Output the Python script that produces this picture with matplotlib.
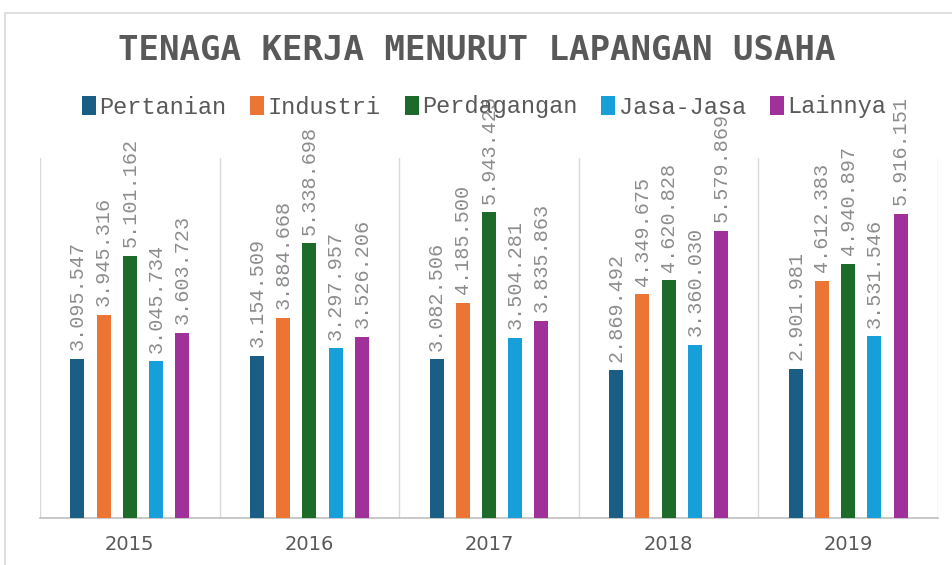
import numpy as np
import matplotlib.pyplot as plt
from matplotlib.patches import Rectangle

# data
years = ["2015", "2016", "2017", "2018", "2019"]
sectors = ["Pertanian", "Industri", "Perdagangan", "Jasa-Jasa", "Lainnya"]
pertanian = [3095547, 3154509, 3082506, 2869492, 2901981]
industri = [3945316, 3884668, 4185500, 4349675, 4612383]
perdagangan = [5101162, 5338698, 5943425, 4620828, 4940897]
jasa = [3045734, 3297957, 3504281, 3360030, 3531546]
lainnya = [3603723, 3526206, 3835863, 5579869, 5916151]

colors = ["#1b5e85", "#ed7533", "#1c6b28", "#169fd8", "#a0309a"]


def fmt(v):
    # thousands separated by dots
    return f"{v:,}".replace(",", ".")


fig = plt.figure(figsize=(9.53, 5.65), dpi=100)

# light border round the chart
fig.patches.append(Rectangle((5 / 953, -0.05), 1.1, 1.05 - 13 / 565,
                             transform=fig.transFigure, fill=False,
                             edgecolor="#d9d9d9", linewidth=1.2))

ax = fig.add_axes([40 / 953, 47 / 565, 898 / 953, 360 / 565])

x = np.arange(len(years))
step = 0.146
width = 0.078
series = [pertanian, industri, perdagangan, jasa, lainnya]
bars = []
for i, (name, vals) in enumerate(zip(sectors, series)):
    pos = x + (i - 2) * step
    b = ax.bar(pos, vals, width, color=colors[i], label=name, zorder=3)
    bars.append(b)
    for px, v in zip(pos, vals):
        ax.text(px, v + 170000, fmt(v), rotation=90, ha="center", va="bottom",
                fontsize=14.5, family="Liberation Mono", color="#8c8c8c",
                zorder=4)

ax.set_xlim(-0.5, len(years) - 0.5)
ax.set_ylim(0, 7000000)
ax.set_yticks([])
ax.set_xticks(x)
ax.set_xticklabels(years, fontsize=14, color="#595959", family="DejaVu Sans")
ax.tick_params(axis="x", length=0, pad=12)

for b in np.arange(-0.5, len(years), 1.0):
    ax.axvline(b, color="#d9d9d9", linewidth=1, zorder=1)

for side in ["top", "right", "left"]:
    ax.spines[side].set_visible(False)
ax.spines["bottom"].set_color("#bfbfbf")
ax.spines["bottom"].set_linewidth(1.2)

fig.text(0.5, 1 - 50 / 565, "TENAGA KERJA MENURUT LAPANGAN USAHA",
         ha="center", va="center", fontsize=24.5, fontweight="bold",
         family="DejaVu Sans Mono", color="#595959")

leg = fig.legend(handles=bars, labels=sectors, loc="center",
                 bbox_to_anchor=(484 / 953, 1 - 107 / 565), ncol=5,
                 frameon=False, handlelength=0.6, handleheight=0.9,
                 handletextpad=0.15, columnspacing=1.0,
                 prop={"family": "Liberation Mono", "size": 17})
for t in leg.get_texts():
    t.set_color("#595959")

fig.savefig("out.png", dpi=100)
